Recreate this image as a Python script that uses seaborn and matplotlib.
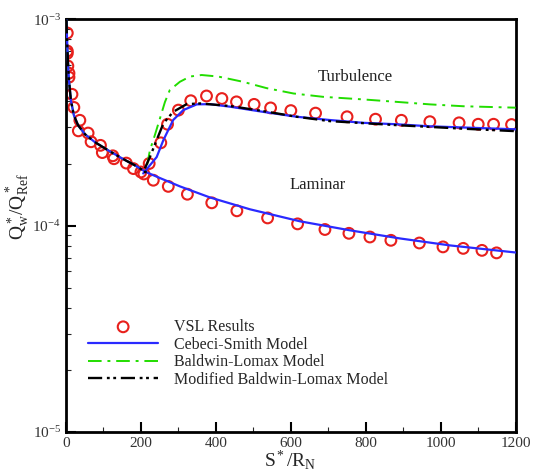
import numpy as np
import pandas as pd
import matplotlib
matplotlib.use("Agg")
import matplotlib.pyplot as plt
import seaborn as sns

# ---------------- data ----------------
# VSL results (open circles)
vsl_x = [3.5, 3.5, 3.5, 5, 8, 8, 16, 21, 37, 33, 59, 67, 92, 97, 125, 128, 161, 180, 200, 208,
         # laminar branch
         233, 273, 324, 389, 456, 538, 618, 691, 755, 811, 867, 943, 1006, 1060, 1110, 1149,
         # turbulent branch
         222, 253, 271, 300, 333, 375, 416, 455, 502, 546, 600, 666, 750, 826, 895, 971, 1049, 1100, 1141, 1189]
vsl_y = [8.58e-4, 7.02e-4, 6.84e-4, 5.94e-4, 5.48e-4, 5.24e-4, 4.33e-4, 3.74e-4, 3.24e-4, 2.88e-4,
         2.81e-4, 2.55e-4, 2.45e-4, 2.26e-4, 2.18e-4, 2.11e-4, 2.01e-4, 1.89e-4, 1.82e-4, 1.78e-4,
         1.66e-4, 1.55e-4, 1.42e-4, 1.29e-4, 1.18e-4, 1.09e-4, 1.02e-4, 9.58e-5, 9.18e-5, 8.81e-5,
         8.49e-5, 8.24e-5, 7.89e-5, 7.76e-5, 7.59e-5, 7.38e-5,
         2.00e-4, 2.52e-4, 3.10e-4, 3.63e-4, 4.03e-4, 4.25e-4, 4.13e-4, 3.98e-4, 3.87e-4, 3.72e-4,
         3.61e-4, 3.51e-4, 3.37e-4, 3.28e-4, 3.24e-4, 3.19e-4, 3.15e-4, 3.10e-4, 3.10e-4, 3.09e-4]

# laminar solution (shared by all models before transition)
lam_x = [1, 3, 5, 8, 13, 21, 32, 51, 77, 112, 149, 184, 213, 251, 304, 384, 491, 624, 758, 891, 1025, 1200]
lam_y = [1.0e-3, 7.93e-4, 6.35e-4, 5.07e-4, 4.06e-4, 3.43e-4, 3.07e-4, 2.77e-4, 2.54e-4, 2.32e-4,
         2.12e-4, 1.96e-4, 1.82e-4, 1.70e-4, 1.55e-4, 1.37e-4, 1.20e-4, 1.05e-4, 9.49e-5, 8.67e-5,
         8.02e-5, 7.41e-5]

# Cebeci-Smith turbulent branch
cs_x = [206, 242, 260, 286, 313, 349, 384, 438, 526, 616, 704, 793, 882, 971, 1060, 1200]
cs_y = [1.79e-4, 2.15e-4, 2.60e-4, 3.25e-4, 3.63e-4, 3.87e-4, 3.88e-4, 3.77e-4, 3.56e-4, 3.37e-4,
        3.25e-4, 3.15e-4, 3.10e-4, 3.03e-4, 2.99e-4, 2.93e-4]

# Baldwin-Lomax turbulent branch
bl_x = [213, 224, 237, 251, 264, 277, 304, 331, 362, 406, 472, 535, 607, 686, 793, 882, 971, 1060, 1200]
bl_y = [1.82e-4, 2.32e-4, 2.74e-4, 3.32e-4, 3.97e-4, 4.54e-4, 4.98e-4, 5.28e-4, 5.37e-4, 5.28e-4,
        4.98e-4, 4.64e-4, 4.37e-4, 4.21e-4, 4.09e-4, 3.98e-4, 3.87e-4, 3.79e-4, 3.73e-4]

# Modified Baldwin-Lomax turbulent branch
mbl_x = [206, 224, 242, 260, 286, 322, 358, 438, 526, 616, 704, 882, 1060, 1200]
mbl_y = [1.82e-4, 2.15e-4, 2.60e-4, 3.13e-4, 3.56e-4, 3.88e-4, 3.91e-4, 3.80e-4, 3.59e-4, 3.37e-4,
         3.21e-4, 3.07e-4, 2.95e-4, 2.87e-4]

labels = ["VSL Results", "Cebeci-Smith Model", "Baldwin-Lomax Model", "Modified Baldwin-Lomax Model"]

# ---------------- style ----------------
sns.set_style("ticks")
plt.rcParams["font.family"] = ["Liberation Serif", "DejaVu Serif"]
plt.rcParams["mathtext.fontset"] = "custom"
plt.rcParams["mathtext.rm"] = "Liberation Serif"
plt.rcParams["mathtext.it"] = "Liberation Serif:italic"

fig = plt.figure(figsize=(5.36, 4.74), dpi=100)
ax = fig.add_axes([0.1231, 0.0886, 0.8390, 0.8707])

lam_pre = [(x, y) for x, y in zip(lam_x, lam_y) if x <= 213]
lpx = [p[0] for p in lam_pre]
lpy = [p[1] for p in lam_pre]

# circles
sns.scatterplot(x=vsl_x, y=vsl_y, ax=ax, marker="o", s=60, facecolors="none",
                edgecolor="#e8201c", linewidth=1.5, label=labels[0], zorder=2, clip_on=True)

green = "#22dd00"
# Baldwin-Lomax
sns.lineplot(x=lpx + bl_x, y=lpy + bl_y, ax=ax, sort=False, color=green, lw=1.4,
             dashes=False, label=labels[2], zorder=3)
ax.lines[-1].set_dashes([7, 3, 1.5, 3])
# Cebeci-Smith
sns.lineplot(x=lam_x, y=lam_y, ax=ax, sort=False, color="#2a2aff", lw=1.6, label=labels[1], zorder=4)
sns.lineplot(x=cs_x, y=cs_y, ax=ax, sort=False, color="#2a2aff", lw=1.6, zorder=4)
# Modified Baldwin-Lomax
sns.lineplot(x=lpx + mbl_x, y=lpy + mbl_y, ax=ax, sort=False, color="black", lw=1.7,
             label=labels[3], zorder=5)
ax.lines[-1].set_dashes([6, 2, 1.2, 1.5, 1.2, 2])

ax.set_yscale("log")
ax.set_xlim(0, 1200)
ax.set_ylim(1e-5, 1e-3)
ax.set_xticks(np.arange(0, 1201, 200))
ax.set_xticks(np.arange(100, 1200, 200), minor=True)
ax.set_yticks([1e-5, 1e-4, 1e-3])
ax.set_yticklabels([r"$10^{-5}$", r"$10^{-4}$", r"$10^{-3}$"])
ax.tick_params(axis="both", which="major", direction="in", length=7, width=1.5,
               labelsize=11, colors="black", labelcolor="#333333")
ax.tick_params(axis="both", which="minor", direction="in", length=3.5, width=0.8)
ax.tick_params(axis="y", which="minor", labelleft=False)
for s in ax.spines.values():
    s.set_linewidth(2.0)
    s.set_color("black")

ax.set_xlabel(r"$\mathrm{S^*/R_N}$", fontsize=14)
ax.set_ylabel(r"$\mathrm{Q^*_w/Q^*_{Ref}}$", fontsize=14)
ax.xaxis.set_label_coords(0.498, -0.040)
ax.yaxis.set_label_coords(-0.076, 0.545)

ax.text(771, 5.25e-4, "Turbulence", ha="center", va="center", fontsize=12, color="#222222")
ax.text(672, 1.57e-4, "Laminar", ha="center", va="center", fontsize=12, color="#222222")

h, l = ax.get_legend_handles_labels()
order = [l.index(t) for t in labels]
leg = ax.legend([h[i] for i in order], [l[i] for i in order], loc="upper left",
                bbox_to_anchor=(88 / 536, 1 - 319 / 474), bbox_transform=fig.transFigure,
                frameon=False, fontsize=11.5, handlelength=4.4, handletextpad=1.0,
                labelspacing=0.1, borderpad=0, borderaxespad=0)

fig.savefig("out.png", dpi=100)
